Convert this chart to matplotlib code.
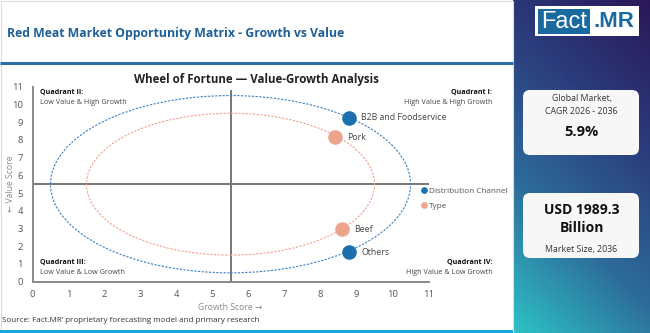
import numpy as np
import matplotlib.pyplot as plt
from matplotlib.patches import Rectangle, FancyBboxPatch, Ellipse
from matplotlib.lines import Line2D
from matplotlib.colors import LinearSegmentedColormap

plt.rcParams['font.family'] = ['Open Sans', 'DejaVu Sans']

# segment scores (growth on x, value on y)
names = ['B2B and Foodservice', 'Pork', 'Beef', 'Others']
growth = [8.8, 8.4, 8.6, 8.8]
value = [9.25, 8.15, 2.95, 1.65]
groups = ['Distribution Channel', 'Type', 'Type', 'Distribution Channel']

group_order = ['Distribution Channel', 'Type']
group_colors = {'Distribution Channel': '#1b6fae', 'Type': '#eca48d'}
ring_colors = {'Distribution Channel': '#3a80bf', 'Type': '#f0a292'}
ring_radius = {'Distribution Channel': 5.0, 'Type': 4.0}
center = 5.5
ticks = list(range(12))

cagr_label = 'Global Market,\nCAGR 2026 - 2036'
cagr_value = '5.9%'
size_value = 'USD 1989.3\nBillion'
size_label = 'Market Size, 2036'

W, H = 650, 333
PANEL_X = 513

fig = plt.figure(figsize=(6.5, 3.33), dpi=100)

# background layer in pixel units
bg = fig.add_axes([0, 0, 1, 1])
bg.axis('off')

gx, gy = np.meshgrid(np.linspace(0, 1, 140), np.linspace(0, 1, 340))
shade = 0.72 * gy + 0.28 * (1 - gx)
panel_cmap = LinearSegmentedColormap.from_list('panel', ['#2a1858', '#2b3c7c', '#2d6c9a', '#2ec2c6'])
bg.imshow(shade, cmap=panel_cmap, extent=(PANEL_X, W, H, 0), aspect='auto', vmin=0, vmax=1)
bg.set_xlim(0, W)
bg.set_ylim(H, 0)

bg.add_patch(Rectangle((0.5, 0.5), PANEL_X - 1, H - 1, fill=False, ec='#dcdcdc', lw=0.8))
bg.plot([0, PANEL_X], [63.3, 63.3], color='#2a6fa6', lw=2.2, solid_capstyle='butt')
bg.add_patch(Rectangle((0, 330), PANEL_X, 3, color='#16a9e1', lw=0))

bg.text(7, 33.5, 'Red Meat Market Opportunity Matrix - Growth vs Value',
        fontsize=8.8, fontweight='bold', color='#1d5f96', va='center')
bg.text(256.5, 80, 'Wheel of Fortune \u2014 Value-Growth Analysis',
        fontsize=8.3, fontweight='bold', color='#222222', ha='center', va='center')
bg.text(2, 320, 'Source: Fact.MR\u2019 proprietary forecasting model and primary research',
        fontsize=5.8, color='#333333', va='center')

# quadrant captions
quads = [
    (39.5, 92.3, 'Quadrant II:', 'Low Value & High Growth', 'left'),
    (492.3, 92.0, 'Quadrant I:', 'High Value & High Growth', 'right'),
    (39.5, 262.7, 'Quadrant III:', 'Low Value & Low Growth', 'left'),
    (492.3, 262.7, 'Quadrant IV:', 'High Value & Low Growth', 'right'),
]
for qx, qy, head, sub, align in quads:
    bg.text(qx, qy, head, fontsize=5.2, fontweight='bold', color='#111111', ha=align, va='center')
    bg.text(qx, qy + 10, sub, fontsize=5.2, color='#444444', ha=align, va='center')

# logo
bg.add_patch(Rectangle((535, 6), 104, 30, color='white', lw=0))
bg.add_patch(Rectangle((538, 8.5), 52, 25, color='#1a6aa0', lw=0))
bg.text(564, 21.5, 'Fact', fontsize=17, color='white', ha='center', va='center',
        family='Liberation Sans')
bg.text(614, 21.5, '.MR', fontsize=16, color='#1a6aa0', fontweight='bold', ha='center',
        va='center', family='Liberation Sans')

# KPI cards
for top in (90, 193):
    bg.add_patch(FancyBboxPatch((523, top), 116, 65, boxstyle='round,pad=0,rounding_size=7',
                                fc='#f7f7f7', ec='none'))
bg.text(581.5, 105, cagr_label, fontsize=6.3, color='#333333', ha='center', va='center',
        linespacing=1.5)
bg.text(581.5, 132.5, cagr_value, fontsize=10.5, fontweight='bold', color='#111111',
        ha='center', va='center')
bg.text(581.5, 219, size_value, fontsize=10, fontweight='bold', color='#111111',
        ha='center', va='center', linespacing=1.4)
bg.text(581.5, 249.5, size_label, fontsize=6.3, color='#333333', ha='center', va='center')

# main chart
ax = fig.add_axes([32.5 / W, 1 - 281.7 / H, 396 / W, 195 / H])
ax.patch.set_alpha(0)
ax.set_xlim(0, 11)
ax.set_ylim(0, 11)
ax.set_xticks(ticks)
ax.set_yticks(ticks)
ax.tick_params(length=0, labelsize=6.8, colors='#555555')
ax.tick_params(axis='x', pad=6)
ax.tick_params(axis='y', pad=7)
for side in ('top', 'right'):
    ax.spines[side].set_visible(False)
for side in ('left', 'bottom'):
    ax.spines[side].set_color('#8a8a8a')
    ax.spines[side].set_linewidth(1.4)

ax.axhline(center, color='#777777', lw=1.4, zorder=1)
ax.axvline(center, ymax=10.75 / 11, color='#777777', lw=1.4, zorder=1)

for g in group_order:
    r = ring_radius[g]
    ax.add_patch(Ellipse((center, center), 2 * r, 2 * r, fill=False, ec=ring_colors[g],
                         lw=0.8, ls=(0, (2, 1.3)), zorder=2))

for name, gxv, vy, g in zip(names, growth, value, groups):
    ax.scatter(gxv, vy, s=110, color=group_colors[g], zorder=4, lw=0)
    ax.annotate(name, (gxv, vy), xytext=(8.5, 0), textcoords='offset points',
                fontsize=6.3, color='#444444', va='center')

handles = [Line2D([], [], ls='none', marker='o', markersize=3.8, color=group_colors[g])
           for g in group_order]
ax.legend(handles, group_order, loc='upper left', bbox_to_anchor=(421 / W, 1 - 187 / H),
          bbox_transform=fig.transFigure, frameon=False, fontsize=5.9, handlelength=0.7,
          handletextpad=0.3, labelspacing=0.95, borderpad=0, borderaxespad=0,
          labelcolor='#555555')

ax.set_xlabel('Growth Score \u2192', fontsize=6.2, color='#888888')
ax.xaxis.set_label_coords(0.5, -0.11)
ax.set_ylabel('\u2190 Value Score', fontsize=6.2, color='#888888')
ax.yaxis.set_label_coords(-0.045, 0.5)

fig.savefig('out.png', dpi=100)
